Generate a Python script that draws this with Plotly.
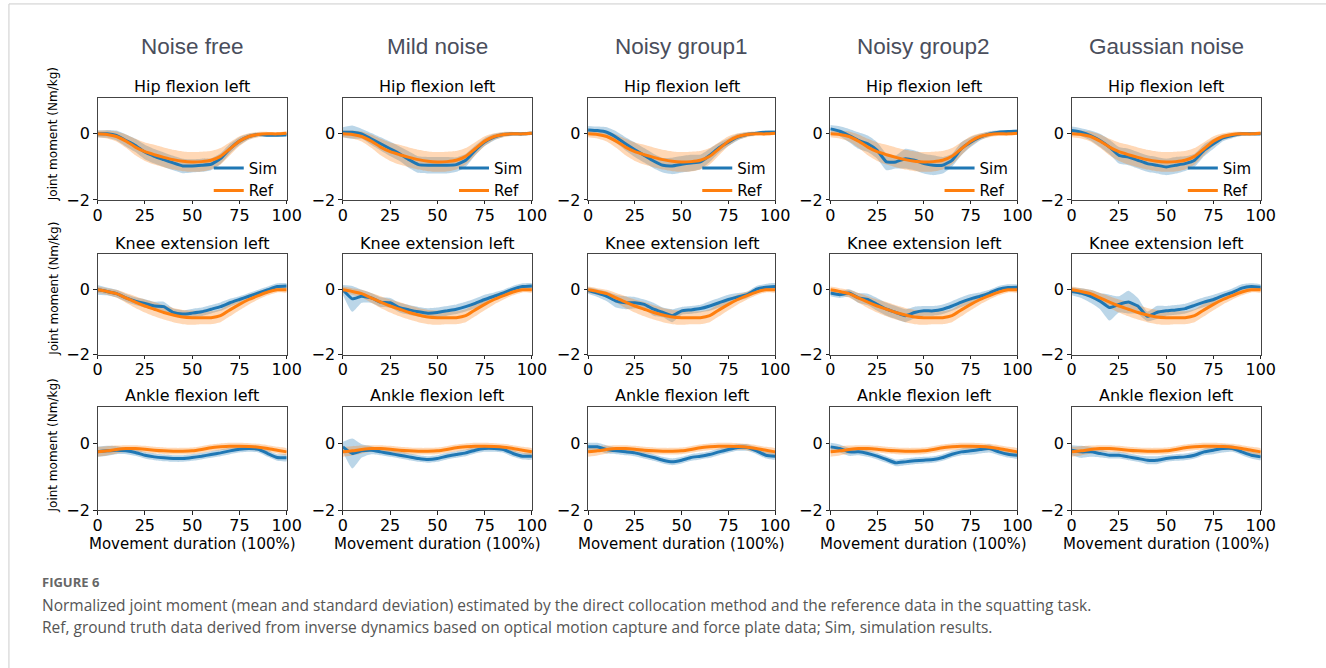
import numpy as np
import plotly.graph_objects as go

W, H = 1326, 668

# ---------------- data ----------------
X = [0, 5, 10, 15, 20, 25, 30, 35, 40, 45, 50, 55, 60, 65, 70, 75, 80, 85, 90, 95, 100]
X_TICKS = [0, 25, 50, 75, 100]
Y_TICKS = [-2, 0]

COLUMNS = ["Noise free", "Mild noise", "Noisy group1", "Noisy group2", "Gaussian noise"]
JOINTS = ["Hip flexion left", "Knee extension left", "Ankle flexion left"]

# reference (ground truth) mean and SD, same for every column
REF_HIP = [0, -0.02, -0.08, -0.22, -0.4, -0.54, -0.63, -0.71, -0.78, -0.83, -0.85, -0.84, -0.8, -0.68, -0.45, -0.22, -0.08, -0.02, 0, 0, 0.02]
REF_HIP_SD = [0.1, 0.12, 0.15, 0.2, 0.25, 0.28, 0.3, 0.3, 0.3, 0.3, 0.3, 0.3, 0.28, 0.25, 0.2, 0.15, 0.1, 0.08, 0.06, 0.05, 0.05]
REF_KNEE = [0, -0.05, -0.12, -0.25, -0.38, -0.5, -0.6, -0.7, -0.78, -0.84, -0.86, -0.86, -0.86, -0.8, -0.62, -0.45, -0.3, -0.18, -0.07, 0, 0]
REF_KNEE_SD = [0.1, 0.1, 0.12, 0.15, 0.18, 0.2, 0.22, 0.22, 0.22, 0.22, 0.22, 0.2, 0.2, 0.2, 0.2, 0.18, 0.15, 0.12, 0.1, 0.08, 0.08]
REF_ANKLE = [-0.25, -0.22, -0.18, -0.15, -0.15, -0.17, -0.2, -0.22, -0.23, -0.23, -0.22, -0.18, -0.13, -0.1, -0.08, -0.08, -0.09, -0.11, -0.15, -0.2, -0.25]
REF_ANKLE_SD = [0.15, 0.14, 0.12, 0.1, 0.1, 0.1, 0.1, 0.1, 0.1, 0.1, 0.1, 0.1, 0.1, 0.1, 0.1, 0.1, 0.1, 0.1, 0.1, 0.1, 0.1]

# simulation mean and SD per column
SIM_HIP = [
    [0, 0, -0.05, -0.2, -0.35, -0.55, -0.68, -0.78, -0.88, -0.97, -0.97, -0.95, -0.92, -0.75, -0.45, -0.22, -0.08, -0.02, -0.04, -0.04, -0.03],
    [0.05, 0.05, 0, -0.15, -0.3, -0.45, -0.6, -0.78, -0.93, -0.95, -0.95, -0.95, -0.93, -0.8, -0.5, -0.25, -0.1, -0.02, 0, 0, 0.02],
    [0.12, 0.1, 0.05, -0.1, -0.3, -0.48, -0.65, -0.82, -0.95, -0.97, -0.92, -0.88, -0.85, -0.65, -0.42, -0.25, -0.1, -0.02, 0.02, 0.05, 0.05],
    [0.15, 0.08, -0.05, -0.2, -0.3, -0.5, -0.85, -0.85, -0.75, -0.8, -0.9, -0.95, -0.95, -0.8, -0.45, -0.25, -0.1, 0, 0.05, 0.07, 0.08],
    [0.1, 0.05, -0.05, -0.2, -0.4, -0.65, -0.7, -0.8, -0.9, -0.95, -1.0, -0.95, -0.9, -0.8, -0.5, -0.3, -0.12, -0.05, 0, 0, 0],
]
SIM_HIP_SD = [
    [0.1, 0.12, 0.15, 0.18, 0.2, 0.22, 0.22, 0.22, 0.22, 0.22, 0.2, 0.2, 0.18, 0.16, 0.15, 0.12, 0.08, 0.06, 0.05, 0.05, 0.05],
    [0.15, 0.2, 0.15, 0.18, 0.2, 0.22, 0.22, 0.25, 0.25, 0.25, 0.25, 0.25, 0.22, 0.2, 0.15, 0.12, 0.1, 0.07, 0.05, 0.05, 0.05],
    [0.12, 0.12, 0.15, 0.18, 0.2, 0.22, 0.22, 0.22, 0.22, 0.25, 0.25, 0.25, 0.22, 0.2, 0.15, 0.12, 0.1, 0.07, 0.05, 0.05, 0.05],
    [0.12, 0.15, 0.2, 0.25, 0.25, 0.25, 0.25, 0.2, 0.3, 0.3, 0.3, 0.3, 0.25, 0.2, 0.2, 0.15, 0.1, 0.08, 0.06, 0.05, 0.05],
    [0.12, 0.12, 0.15, 0.2, 0.22, 0.25, 0.25, 0.25, 0.25, 0.25, 0.25, 0.25, 0.22, 0.2, 0.18, 0.15, 0.1, 0.08, 0.06, 0.05, 0.05],
]
SIM_KNEE = [
    [0, -0.05, -0.12, -0.25, -0.35, -0.42, -0.5, -0.52, -0.7, -0.75, -0.72, -0.68, -0.6, -0.52, -0.4, -0.3, -0.2, -0.1, 0, 0.1, 0.12],
    [0, -0.28, -0.2, -0.25, -0.38, -0.4, -0.55, -0.62, -0.68, -0.72, -0.7, -0.65, -0.6, -0.52, -0.42, -0.3, -0.2, -0.1, 0.02, 0.1, 0.12],
    [-0.02, -0.1, -0.2, -0.35, -0.4, -0.4, -0.45, -0.6, -0.7, -0.8, -0.65, -0.62, -0.58, -0.5, -0.4, -0.3, -0.22, -0.15, 0.02, 0.08, 0.1],
    [-0.1, -0.15, -0.1, -0.25, -0.3, -0.45, -0.6, -0.7, -0.8, -0.7, -0.65, -0.65, -0.6, -0.5, -0.38, -0.28, -0.2, -0.1, 0.02, 0.07, 0.08],
    [-0.05, -0.1, -0.2, -0.35, -0.55, -0.45, -0.38, -0.5, -0.82, -0.7, -0.65, -0.62, -0.58, -0.48, -0.38, -0.3, -0.18, -0.08, 0.05, 0.1, 0.08],
]
SIM_KNEE_SD = [
    [0.15, 0.12, 0.12, 0.12, 0.12, 0.13, 0.13, 0.15, 0.12, 0.12, 0.13, 0.13, 0.13, 0.13, 0.12, 0.1, 0.1, 0.1, 0.1, 0.1, 0.08],
    [0.15, 0.4, 0.2, 0.15, 0.15, 0.15, 0.15, 0.15, 0.15, 0.15, 0.15, 0.15, 0.15, 0.15, 0.15, 0.15, 0.12, 0.1, 0.1, 0.1, 0.08],
    [0.1, 0.12, 0.15, 0.2, 0.2, 0.18, 0.15, 0.2, 0.15, 0.2, 0.12, 0.12, 0.12, 0.15, 0.15, 0.15, 0.12, 0.1, 0.1, 0.1, 0.1],
    [0.1, 0.1, 0.12, 0.15, 0.18, 0.2, 0.2, 0.2, 0.2, 0.18, 0.15, 0.15, 0.15, 0.15, 0.15, 0.15, 0.12, 0.1, 0.1, 0.1, 0.08],
    [0.12, 0.15, 0.2, 0.25, 0.4, 0.25, 0.35, 0.25, 0.15, 0.2, 0.15, 0.15, 0.15, 0.15, 0.15, 0.15, 0.12, 0.12, 0.12, 0.1, 0.08],
]
SIM_ANKLE = [
    [-0.25, -0.22, -0.2, -0.22, -0.27, -0.35, -0.4, -0.43, -0.45, -0.45, -0.42, -0.38, -0.33, -0.28, -0.22, -0.17, -0.15, -0.17, -0.3, -0.42, -0.43],
    [-0.1, -0.3, -0.22, -0.2, -0.25, -0.3, -0.35, -0.4, -0.45, -0.48, -0.45, -0.38, -0.33, -0.28, -0.2, -0.15, -0.15, -0.18, -0.3, -0.38, -0.38],
    [-0.1, -0.1, -0.18, -0.22, -0.25, -0.28, -0.35, -0.42, -0.5, -0.55, -0.5, -0.42, -0.38, -0.33, -0.25, -0.18, -0.12, -0.12, -0.22, -0.35, -0.38],
    [-0.1, -0.15, -0.25, -0.25, -0.3, -0.38, -0.48, -0.58, -0.55, -0.52, -0.5, -0.48, -0.42, -0.32, -0.25, -0.22, -0.18, -0.15, -0.25, -0.32, -0.35],
    [-0.2, -0.25, -0.25, -0.3, -0.35, -0.35, -0.4, -0.45, -0.5, -0.5, -0.45, -0.42, -0.4, -0.35, -0.25, -0.2, -0.15, -0.15, -0.25, -0.35, -0.4],
]
SIM_ANKLE_SD = [
    [0.15, 0.15, 0.12, 0.1, 0.1, 0.1, 0.1, 0.1, 0.1, 0.1, 0.1, 0.1, 0.1, 0.1, 0.1, 0.1, 0.1, 0.1, 0.1, 0.1, 0.1],
    [0.15, 0.45, 0.2, 0.12, 0.1, 0.1, 0.1, 0.1, 0.1, 0.1, 0.1, 0.1, 0.1, 0.1, 0.1, 0.1, 0.1, 0.1, 0.1, 0.1, 0.1],
    [0.12, 0.12, 0.12, 0.1, 0.1, 0.1, 0.1, 0.1, 0.1, 0.1, 0.1, 0.1, 0.1, 0.1, 0.1, 0.1, 0.1, 0.1, 0.1, 0.1, 0.1],
    [0.12, 0.12, 0.12, 0.1, 0.1, 0.1, 0.1, 0.1, 0.1, 0.1, 0.1, 0.1, 0.1, 0.1, 0.1, 0.12, 0.12, 0.12, 0.1, 0.1, 0.1],
    [0.15, 0.18, 0.15, 0.12, 0.1, 0.1, 0.1, 0.1, 0.12, 0.12, 0.1, 0.1, 0.1, 0.1, 0.1, 0.12, 0.12, 0.1, 0.1, 0.1, 0.1],
]

CAPTION_LABEL = "FIGURE 6"
CAPTION_1 = "Normalized joint moment (mean and standard deviation) estimated by the direct collocation method and the reference data in the squatting task."
CAPTION_2 = "Ref, ground truth data derived from inverse dynamics based on optical motion capture and force plate data; Sim, simulation results."
Y_LABEL = "Joint moment (Nm/kg)"
X_LABEL = "Movement duration (100%)"

# ---------------- layout geometry (pixels) ----------------
COL_X = [(94, 286), (343, 535), (592, 782), (838, 1028), (1083, 1275)]
ROW_Y = [(99, 203), (258, 360), (413, 518)]

SIM_C = "#1f77b4"
REF_C = "#ff7f0e"
SIM_FILL = "rgba(31,119,180,0.3)"
REF_FILL = "rgba(255,127,14,0.3)"


def xp(px):
    return px / W


def yp(py):
    return 1 - py / H


ref_mean = [REF_HIP, REF_KNEE, REF_ANKLE]
ref_sd = [REF_HIP_SD, REF_KNEE_SD, REF_ANKLE_SD]
sim_mean = [SIM_HIP, SIM_KNEE, SIM_ANKLE]
sim_sd = [SIM_HIP_SD, SIM_KNEE_SD, SIM_ANKLE_SD]

fig = go.Figure()
layout = dict(
    width=W, height=H, margin=dict(l=0, r=0, t=0, b=0),
    paper_bgcolor="white", plot_bgcolor="white",
    font=dict(family="DejaVu Sans", color="black"),
    showlegend=True,
)
annotations = []

tick_font = dict(family="DejaVu Sans", size=16, color="black")
xs = np.array(X, dtype=float)

idx = 0
for r in range(3):
    for c in range(5):
        idx += 1
        sfx = "" if idx == 1 else str(idx)
        xa, ya = "x" + sfx, "y" + sfx
        leg = "legend" if c == 0 else "legend" + str(c + 1)

        def band(mean, sd, color):
            m = np.array(mean, dtype=float)
            s = np.array(sd, dtype=float)
            return go.Scatter(
                x=np.concatenate([xs, xs[::-1]]),
                y=np.concatenate([m + s, (m - s)[::-1]]),
                fill="toself", fillcolor=color, mode="lines",
                line=dict(width=0, shape="spline", smoothing=0.5),
                hoverinfo="skip", showlegend=False, xaxis=xa, yaxis=ya,
            )

        fig.add_trace(band(sim_mean[r][c], sim_sd[r][c], SIM_FILL))
        fig.add_trace(band(ref_mean[r], ref_sd[r], REF_FILL))
        fig.add_trace(go.Scatter(
            x=X, y=sim_mean[r][c], mode="lines", name="Sim",
            line=dict(color=SIM_C, width=3, shape="spline", smoothing=0.4),
            showlegend=(r == 0), legend=leg, xaxis=xa, yaxis=ya,
        ))
        fig.add_trace(go.Scatter(
            x=X, y=ref_mean[r], mode="lines", name="Ref",
            line=dict(color=REF_C, width=3, shape="spline", smoothing=0.6),
            showlegend=(r == 0), legend=leg, xaxis=xa, yaxis=ya,
        ))

        x0, x1 = COL_X[c]
        y0, y1 = ROW_Y[r]
        axis_common = dict(
            showline=True, mirror=True, linecolor="#444", linewidth=1,
            ticks="outside", ticklen=3.5, tickcolor="#222", tickwidth=1,
            showgrid=False, zeroline=False, tickfont=tick_font,
        )
        layout["xaxis" + sfx] = dict(
            domain=[xp(x0), xp(x1)], range=[0, 100], anchor=ya,
            tickvals=X_TICKS, ticktext=[str(v) for v in X_TICKS],
            ticklabelstandoff=-3, **axis_common,
        )
        layout["yaxis" + sfx] = dict(
            domain=[yp(y1), yp(y0)], range=[-2, 1.1], anchor=xa,
            tickvals=Y_TICKS, ticktext=["\u22122", "0"], **axis_common,
        )

        # subplot title
        annotations.append(dict(
            text=JOINTS[r], x=xp((x0 + x1) / 2), y=yp(y0 - 11), xref="paper", yref="paper",
            xanchor="center", yanchor="middle", showarrow=False,
            font=dict(family="DejaVu Sans", size=16, color="black"),
        ))
        if r == 2:
            annotations.append(dict(
                text=X_LABEL, x=xp((x0 + x1) / 2), y=yp(552), xref="paper", yref="paper",
                xanchor="center", yanchor="middle", showarrow=False,
                font=dict(family="DejaVu Sans", size=15, color="black"),
            ))

for c in range(5):
    key = "legend" if c == 0 else "legend" + str(c + 1)
    x0, x1 = COL_X[c]
    layout[key] = dict(
        x=xp(x1 - 4), y=yp(ROW_Y[0][1] + 7), xanchor="right", yanchor="bottom",
        bgcolor="rgba(0,0,0,0)", borderwidth=0,
        font=dict(family="DejaVu Sans", size=15, color="black"),
        tracegroupgap=0, itemwidth=30,
    )
    annotations.append(dict(
        text=COLUMNS[c], x=xp((x0 + x1) / 2), y=yp(47), xref="paper", yref="paper",
        xanchor="center", yanchor="middle", showarrow=False,
        font=dict(family="Liberation Sans", size=22.5, color="#4a4e5c"),
    ))

for py in [136, 293, 452]:
    annotations.append(dict(
        text=Y_LABEL, x=xp(49), y=yp(py), xref="paper", yref="paper",
        xanchor="center", yanchor="middle", showarrow=False, textangle=-90,
        font=dict(family="DejaVu Sans", size=12, color="black"),
    ))

annotations.append(dict(
    text="<b>" + CAPTION_LABEL + "</b>", x=xp(36), y=yp(591), xref="paper", yref="paper",
    xanchor="left", yanchor="middle", showarrow=False,
    font=dict(family="Open Sans", size=13, color="#666"),
))
for txt, py in [(CAPTION_1, 614), (CAPTION_2, 637)]:
    annotations.append(dict(
        text=txt, x=xp(36), y=yp(py), xref="paper", yref="paper",
        xanchor="left", yanchor="middle", showarrow=False,
        font=dict(family="Open Sans", size=15.5, color="#555"),
    ))

layout["annotations"] = annotations
layout["shapes"] = [dict(
    type="rect", xref="paper", yref="paper",
    x0=xp(4), x1=1.05, y0=-0.05, y1=yp(4),
    line=dict(color="#cccccc", width=1), fillcolor="rgba(0,0,0,0)", layer="below",
)]

fig.update_layout(**layout)
fig.write_html("out.html")
